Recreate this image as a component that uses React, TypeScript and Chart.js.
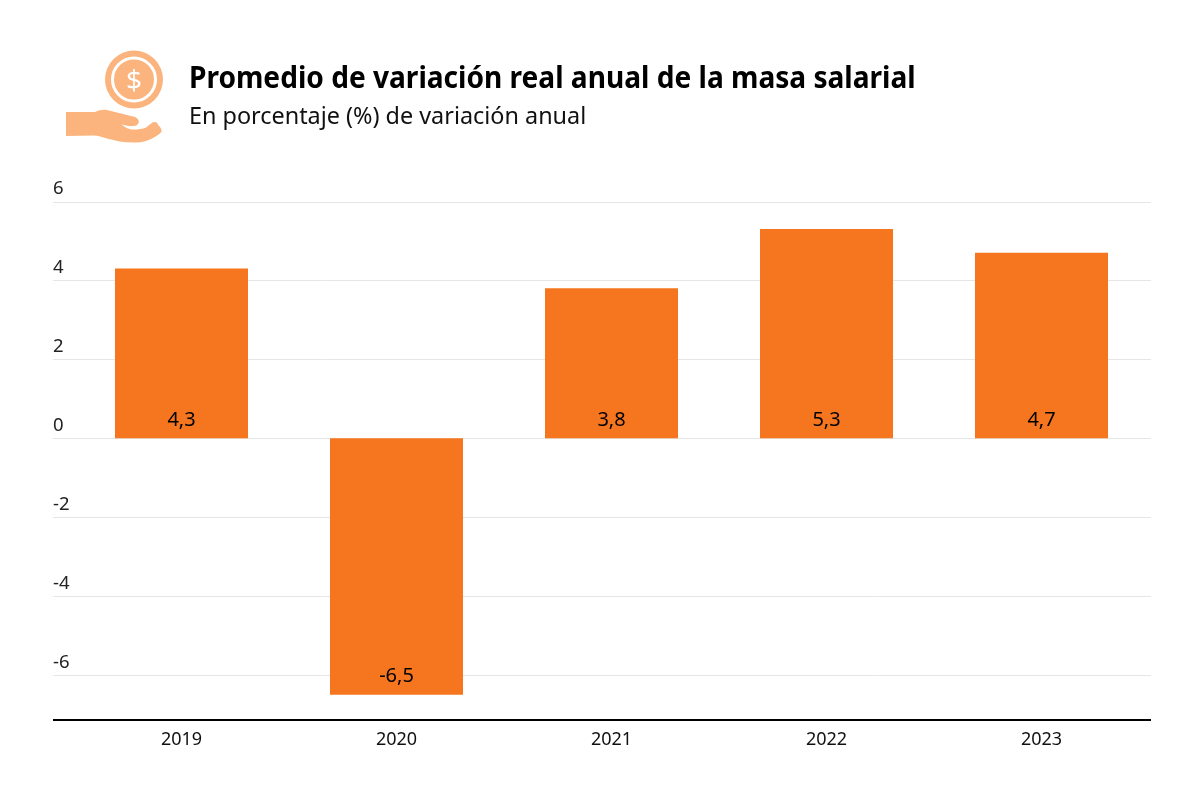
import React, { useEffect, useRef } from "react";
import { Chart, registerables } from "chart.js";

Chart.register(...registerables);

const categories = ["2019", "2020", "2021", "2022", "2023"];
const values = [4.3, -6.5, 3.8, 5.3, 4.7];
const yTicks = [6, 4, 2, 0, -2, -4, -6];
const title = "Promedio de variación real anual de la masa salarial";
const subtitle = "En porcentaje (%) de variación anual";
const FONT = '"Noto Sans", "Open Sans", sans-serif';

const lines = {
  id: "lines",
  beforeDatasetsDraw(chart: any) {
    const { ctx, scales, chartArea } = chart;
    ctx.save();
    ctx.strokeStyle = "#E6E6E6";
    ctx.lineWidth = 1;
    yTicks.forEach((t) => {
      const y = Math.round(scales.y.getPixelForValue(t)) + 0.5;
      ctx.beginPath();
      ctx.moveTo(53, y);
      ctx.lineTo(1151, y);
      ctx.stroke();
    });
    ctx.strokeStyle = "#000";
    ctx.lineWidth = 2;
    ctx.beginPath();
    ctx.moveTo(53, chartArea.bottom);
    ctx.lineTo(1151, chartArea.bottom);
    ctx.stroke();
    ctx.restore();
  },
};

const valueLabels = {
  id: "valueLabels",
  afterDatasetsDraw(chart: any) {
    const { ctx, scales } = chart;
    const meta = chart.getDatasetMeta(0);
    ctx.save();
    ctx.font = `20px ${FONT}`;
    ctx.fillStyle = "#000";
    ctx.textAlign = "center";
    ctx.textBaseline = "middle";
    meta.data.forEach((bar: any, i: number) => {
      const y = values[i] >= 0 ? scales.y.getPixelForValue(0) - 18 : bar.y - 18;
      const label = String(values[i]).replace(".", ",");
      ctx.fillText(label, bar.x, y);
    });
    ctx.font = `18.5px ${FONT}`;
    ctx.fillStyle = "#222";
    ctx.textAlign = "left";
    yTicks.forEach((t) => {
      ctx.fillText(String(t), 53, scales.y.getPixelForValue(t) - 12.5);
    });
    ctx.restore();
  },
};

function Icon() {
  return (
    <svg width="200" height="150" viewBox="0 0 200 150" style={{ position: "absolute", left: 0, top: 0 }}>
      <circle cx="134" cy="79.5" r="29" fill="#FBB47E" />
      <circle cx="134" cy="79.5" r="21.5" fill="none" stroke="#fff" strokeWidth="3" />
      <text x="134" y="90" textAnchor="middle" fontSize="28" fontWeight="400" fill="#fff" fontFamily={FONT}>$</text>
      <path
        d="M66 112 L95 112 C99 110 103 109.5 107 110 L135 117 C140 119 140.5 125 134 126 C129 126.5 125 125 121.5 124.5 C125 127 128 129.5 133 129.5 C138 129.5 143 129 146 127.5 L152.5 122.5 C156 121 158 123 158 125 C160 126.5 162 129 161.5 132 C155 138 147 142 137 142.5 C126 143 116 141 107 138.5 C102 137 98 135.5 94 135.5 L66 136 Z"
        fill="#FBB47E"
      />
    </svg>
  );
}

export default function App() {
  const ref = useRef<HTMLCanvasElement>(null);
  useEffect(() => {
    const chart = new Chart(ref.current!, {
      type: "bar",
      data: {
        labels: categories,
        datasets: [{ data: values, backgroundColor: "#F6761F", categoryPercentage: 0.6186, barPercentage: 1 }],
      },
      plugins: [lines, valueLabels],
      options: {
        animation: false,
        responsive: false,
        layout: { padding: { left: 74, right: 51, top: 201.5, bottom: 40 } },
        plugins: { legend: { display: false }, tooltip: { enabled: false } },
        scales: {
          x: {
            position: "bottom",
            afterFit: (s: any) => { s.height = 40; },
            grid: { display: false },
            border: { display: false },
            ticks: { color: "#111", font: { family: FONT, size: 18 }, padding: 1, maxRotation: 0 },
          },
          y: {
            min: -7.14,
            max: 6,
            afterFit: (s: any) => { s.width = 0; },
            afterBuildTicks: (s: any) => { s.ticks = yTicks.map((v) => ({ value: v })); },
            grid: { display: false },
            border: { display: false },
            ticks: { display: false },
          },
        },
      },
    });
    return () => chart.destroy();
  }, []);
  return (
    <div style={{ position: "relative", width: 1200, height: 800, margin: -8, background: "#fff", overflow: "hidden" }}>
      <canvas ref={ref} width={1200} height={800} style={{ position: "absolute", left: 0, top: 0, display: "block" }} />
      <Icon />
      <div style={{ position: "absolute", left: 189, top: 55, fontFamily: FONT, fontWeight: 700, fontSize: 31, color: "#000", whiteSpace: "nowrap", transform: "scaleX(0.906)", transformOrigin: "left top" }}>{title}</div>
      <div style={{ position: "absolute", left: 189, top: 99, fontFamily: FONT, fontSize: 23.4, color: "#111", whiteSpace: "nowrap" }}>{subtitle}</div>
    </div>
  );
}
